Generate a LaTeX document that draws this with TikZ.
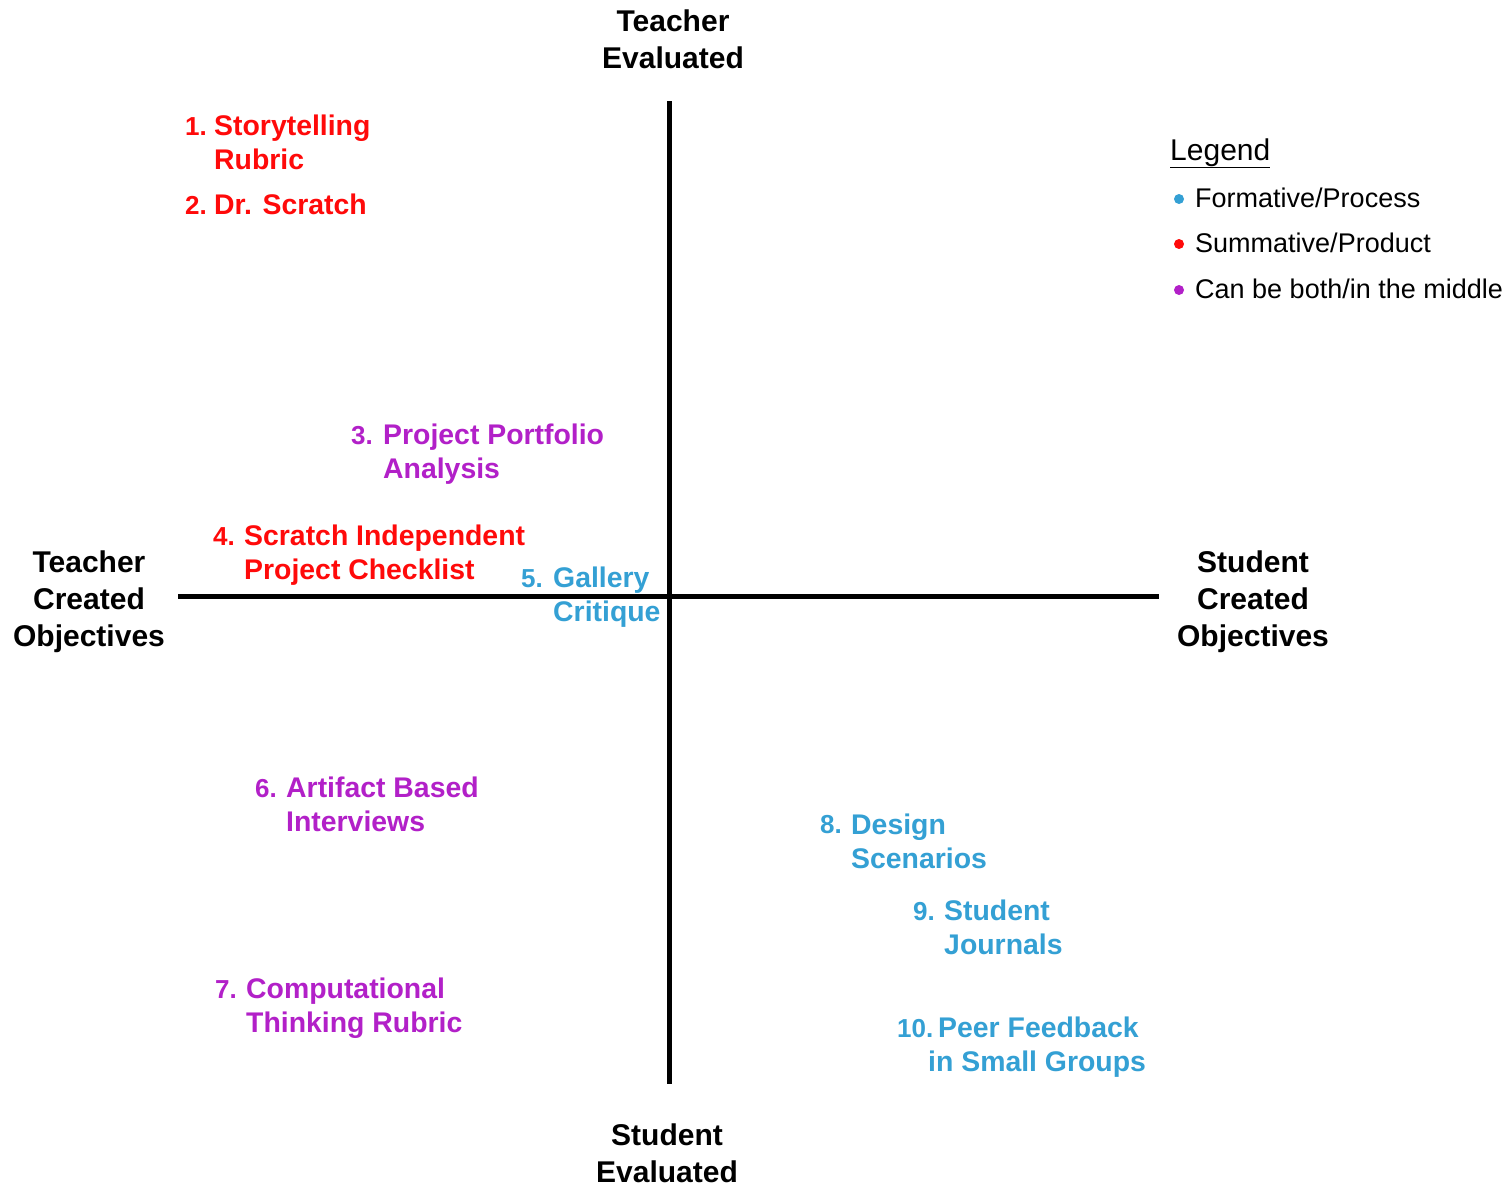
\documentclass[tikz,border=0pt]{standalone}
\usepackage{fontspec}
\setmainfont{Liberation Sans}
\definecolor{sumred}{RGB}{255,10,10}
\definecolor{formblue}{RGB}{52,160,212}
\definecolor{bothpurple}{RGB}{178,32,200}
\begin{document}
\begin{tikzpicture}[x=1pt,y=-1pt,
  axis/.style={line width=5pt},
  axislabel/.style={font=\fontsize{30}{37}\selectfont\bfseries, align=center, inner sep=0pt},
  itemtext/.style={font=\fontsize{28.4}{34}\selectfont\bfseries, align=left, anchor=base west, inner sep=0pt},
  itemnum/.style={font=\fontsize{26}{30}\selectfont\bfseries, anchor=base west, inner sep=0pt},
  legendtext/.style={font=\fontsize{27}{32}\selectfont, anchor=base west, inner sep=0pt},
  legenddot/.style={circle, inner sep=0pt, minimum size=10pt},
]
\useasboundingbox[fill=white] (0,0) rectangle (1511,1184);

% axes
\coordinate (ytop) at (669,101);
\coordinate (ybot) at (669,1084);
\coordinate (xleft) at (178,596);
\coordinate (xright) at (1159,596);
\draw[axis] (ytop) -- (ybot);
\draw[axis] (xleft) -- (xright);

% axis labels
\node[axislabel] (lTop) at (673,39) {Teacher\\Evaluated};
\node[axislabel] (lBot) at (667,1153) {Student\\Evaluated};
\node[axislabel] (lLeft) at (89,602) {Teacher\\Created\\Objectives};
\node[axislabel] (lRight) at (1253,602) {Student\\Created\\Objectives};

% items (text nodes are anchored at the baseline of their last line)
\node[itemnum, text=sumred] (n1) at (185,135) {1.};
\node[itemtext, text=sumred] (t1) at (214,169) {Storytelling\\Rubric};
\node[itemnum, text=sumred] (n2) at (185,214) {2.};
\node[itemtext, text=sumred] (t2) at (214,214) {Dr. Scratch};
\node[itemnum, text=sumred] (n4) at (213,545) {4.};
\node[itemtext, text=sumred] (t4) at (244,579) {Scratch Independent\\Project Checklist};

\node[itemnum, text=bothpurple] (n3) at (351,444) {3.};
\node[itemtext, text=bothpurple] (t3) at (383,478) {Project Portfolio\\Analysis};
\node[itemnum, text=bothpurple] (n6) at (255,797) {6.};
\node[itemtext, text=bothpurple] (t6) at (286,831) {Artifact Based\\Interviews};
\node[itemnum, text=bothpurple] (n7) at (215,998) {7.};
\node[itemtext, text=bothpurple] (t7) at (246,1032) {Computational\\Thinking Rubric};

\node[itemnum, text=formblue] (n5) at (521,587) {5.};
\node[itemtext, text=formblue] (t5) at (553,621) {Gallery\\Critique};
\node[itemnum, text=formblue] (n8) at (820,833) {8.};
\node[itemtext, text=formblue] (t8) at (851,868) {Design\\Scenarios};
\node[itemnum, text=formblue] (n9) at (913,920) {9.};
\node[itemtext, text=formblue] (t9) at (944,954) {Student\\Journals};
\node[itemnum, text=formblue] (n10) at (897,1037) {10.};
\node[itemtext, text=formblue] (t10) at (938,1071) {Peer Feedback\\\hspace*{-10pt}in Small Groups};

% legend
\node[legendtext, font=\fontsize{30}{34}\selectfont] (leg) at (1170,160) {\underline{Legend}};
\node[legenddot, fill=formblue] (d1) at (1179,199) {};
\node[legendtext] (g1) at (1195,207) {Formative/Process};
\node[legenddot, fill=sumred] (d2) at (1179,244) {};
\node[legendtext] (g2) at (1195,252) {Summative/Product};
\node[legenddot, fill=bothpurple] (d3) at (1179,290) {};
\node[legendtext] (g3) at (1195,298) {Can be both/in the middle};
\end{tikzpicture}
\end{document}
